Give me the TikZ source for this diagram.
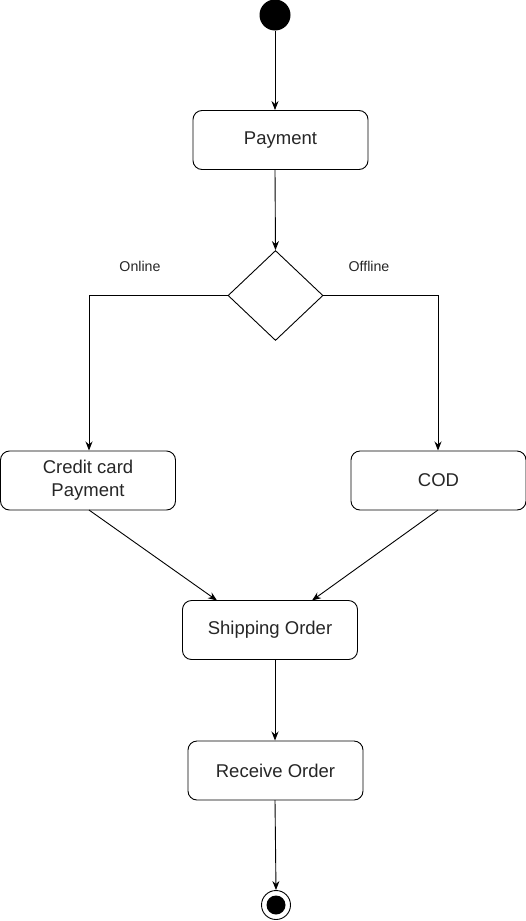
\documentclass[tikz,border=0pt]{standalone}
\usepackage{fontspec}
\setmainfont{Liberation Sans}
\usetikzlibrary{shapes.geometric,arrows.meta}
\begin{document}
\begin{tikzpicture}[x=1pt,y=-1pt,
  act/.style={draw,rounded corners=9pt,line width=0.9pt,minimum width=175pt,minimum height=59pt,align=center,font=\fontsize{18.5}{23}\selectfont,inner sep=0pt,text=black!85},
  conn/.style={line width=0.9pt,-{Stealth[length=9pt,width=7pt]}},
  lbl/.style={font=\fontsize{14.2}{16}\selectfont,inner sep=0pt,text=black!85}]
\useasboundingbox (0,0) rectangle (526,921);
\node[circle,fill=black,minimum size=31pt,inner sep=0pt] (start) at (275,15) {};
\node[act] (pay) at (280.5,140) {\raisebox{-1.5pt}{Payment}};
\node[diamond,draw,line width=0.9pt,minimum width=95pt,minimum height=90pt,inner sep=0pt,aspect=1.05] (dec) at (275.5,295.5) {};
\node[act] (cc) at (88,480.5) {\raisebox{-1.5pt}{Credit card}\\\raisebox{-1.5pt}{Payment}};
\node[act] (cod) at (438.5,480.5) {\raisebox{-1.5pt}{COD}};
\node[act] (ship) at (270,630) {\raisebox{-1.5pt}{Shipping Order}};
\node[act] (recv) at (275.5,770.5) {\raisebox{-1.5pt}{Receive Order}};
\node[circle,draw,line width=0.9pt,minimum size=29pt,inner sep=0pt] (end) at (276,905) {};
\node[circle,fill=black,minimum size=19pt,inner sep=0pt] at (end) {};
\node[lbl] (on) at (140,266) {Online};
\node[lbl] (off) at (369,266) {Offline};
\coordinate (ccTop) at (89,450.5);
\coordinate (codTop) at (438,450.5);
\draw[conn] (start) -- (start |- pay.north);
\draw[conn] (275,170) -- (dec.north);
\draw[conn] (dec.west) -- (89,295.5) -- (ccTop);
\draw[conn] (dec.east) -- (438,295.5) -- (codTop);
\draw[conn] (89,510) -- (217,600.5);
\draw[conn] (438,510) -- (312,600.5);
\draw[conn] (275,660) -- (275,740.5);
\draw[conn] (275,800) -- (end.north);
\end{tikzpicture}
\end{document}
